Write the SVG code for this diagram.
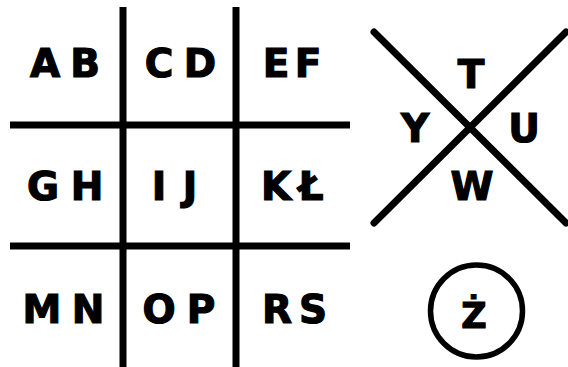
<svg xmlns="http://www.w3.org/2000/svg" width="568" height="367" viewBox="0 0 568 367">
<style>
.ln{stroke:#000;stroke-width:7;fill:none;stroke-linecap:butt}
.x{stroke:#000;stroke-width:7;fill:none;stroke-linecap:round}
.t{font-family:"DejaVu Sans",sans-serif;font-weight:bold;font-size:39px;fill:#000;stroke:#000;stroke-width:1.2;text-anchor:middle}
.s{font-size:35px}
</style>
<rect width="568" height="367" fill="#fff"/>
<g id="connectors">
<line class="ln" x1="123" y1="7" x2="123" y2="367"/>
<line class="ln" x1="236" y1="7" x2="236" y2="367"/>
<line class="ln" x1="10" y1="125" x2="350" y2="125"/>
<line class="ln" x1="10" y1="246" x2="350" y2="246"/>
<line class="x" x1="374" y1="32" x2="566" y2="223"/>
<line class="x" x1="374" y1="223" x2="566" y2="32"/>
</g>
<g id="AB"><text class="t" x="45 85" y="77">AB</text></g>
<g id="CD"><text class="t" x="159 200" y="77">CD</text></g>
<g id="EF"><text class="t" x="276 308" y="77">EF</text></g>
<g id="GH"><text class="t" x="43 87" y="200">GH</text></g>
<g id="IJ"><text class="t" x="159 190" y="200">IJ</text></g>
<g id="KL"><text class="t" x="276 311" y="200">KŁ</text></g>
<g id="MN"><text class="t" x="42 88" y="323">MN</text></g>
<g id="OP"><text class="t" x="159 201" y="323">OP</text></g>
<g id="RS"><text class="t" x="277 313" y="323">RS</text></g>
<g id="T"><text class="t" x="471" y="88">T</text></g>
<g id="Y"><text class="t" x="415" y="142">Y</text></g>
<g id="U"><text class="t" x="524" y="142">U</text></g>
<g id="W"><text class="t" x="472" y="200">W</text></g>
<g id="Z"><circle cx="476.5" cy="311" r="46" fill="none" stroke="#000" stroke-width="5.5"/><text class="t s" x="474" y="328">Ż</text></g>
</svg>
